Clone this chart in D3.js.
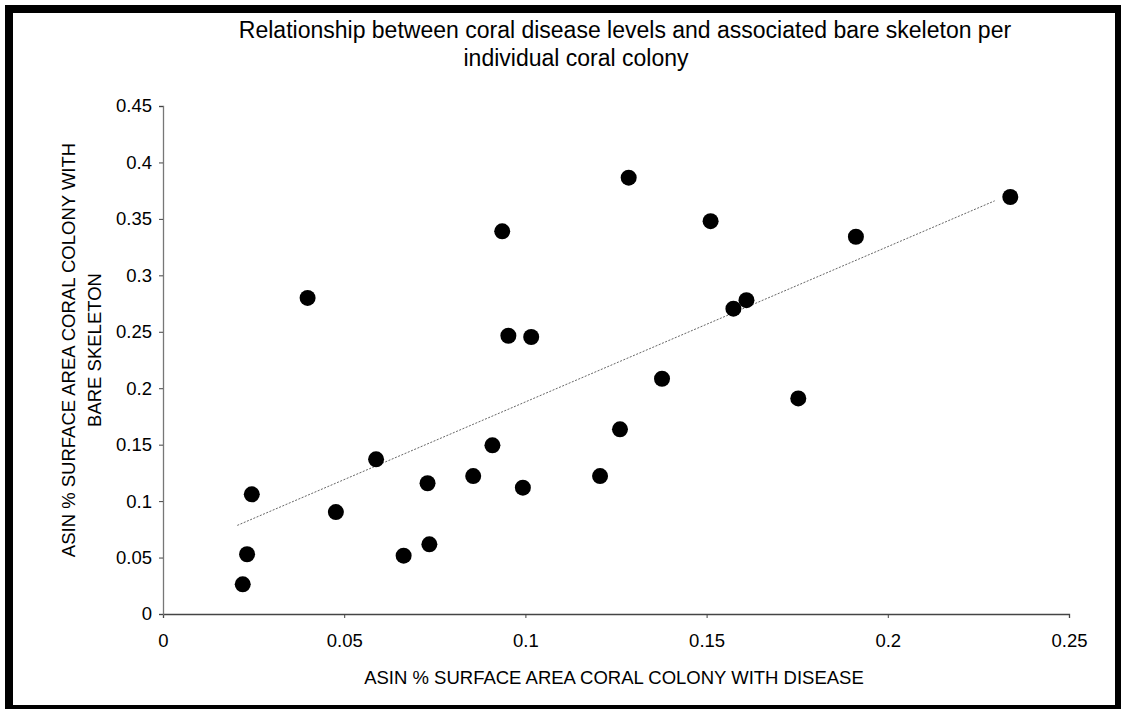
<!DOCTYPE html>
<html>
<head>
<meta charset="utf-8">
<script src="https://cdn.jsdelivr.net/npm/d3@7"></script>
<style>
  body { margin: 0; background: #fff; }
  text { font-family: "Liberation Sans", Arial, sans-serif; fill: #000; }
</style>
</head>
<body>
<svg width="1121" height="709"></svg>
<script>
// disease (x) vs bare skeleton (y), asin transformed
var diseaseVals = [0.0220, 0.0232, 0.0245, 0.0399, 0.0477, 0.0588, 0.0664, 0.0730, 0.0735,
                   0.0856, 0.0909, 0.0936, 0.0953, 0.0993, 0.1016, 0.1206, 0.1261, 0.1285,
                   0.1377, 0.1511, 0.1574, 0.1610, 0.1753, 0.1912, 0.2338];
var skeletonVals = [0.0263, 0.0529, 0.1060, 0.2800, 0.0903, 0.1370, 0.0517, 0.1158, 0.0617,
                    0.1222, 0.1494, 0.3390, 0.2465, 0.1119, 0.2454, 0.1222, 0.1636, 0.3865,
                    0.2084, 0.3480, 0.2705, 0.2780, 0.1910, 0.3342, 0.3694];
// linear trend line end points
var trendX = [0.0205, 0.2295];
var trendY = [0.0785, 0.3660];

var xTicks = [0, 0.05, 0.1, 0.15, 0.2, 0.25];
var xTickLabels = ["0", "0.05", "0.1", "0.15", "0.2", "0.25"];
var yTicks = [0, 0.05, 0.1, 0.15, 0.2, 0.25, 0.3, 0.35, 0.4, 0.45];
var yTickLabels = ["0", "0.05", "0.1", "0.15", "0.2", "0.25", "0.3", "0.35", "0.4", "0.45"];

var titleLines = ["Relationship between coral disease levels and associated bare skeleton per",
                  "individual coral colony"];
var xTitle = "ASIN % SURFACE AREA CORAL COLONY WITH DISEASE";
var yTitleLines = ["ASIN % SURFACE AREA CORAL COLONY WITH", "BARE SKELETON"];

var w = 1121, h = 709;
var margin = { left: 163, right: 52, top: 106, bottom: 95 };

var svg = d3.select("svg");

var x = d3.scaleLinear().domain([0, 0.25]).range([margin.left, w - margin.right]);
var y = d3.scaleLinear().domain([0, 0.45]).range([h - margin.bottom, margin.top]);

// outer frame
svg.append("rect")
    .attr("x", 9).attr("y", 9)
    .attr("width", 1110).attr("height", 700)
    .attr("fill", "#fff")
    .attr("stroke", "#000")
    .attr("stroke-width", 8);

// title
svg.append("text")
    .attr("x", 625).attr("y", 38)
    .attr("text-anchor", "middle")
    .style("font-size", "23px")
    .text(titleLines[0]);
svg.append("text")
    .attr("x", 576).attr("y", 66)
    .attr("text-anchor", "middle")
    .style("font-size", "23px")
    .text(titleLines[1]);

// axes
var xAxis = d3.axisBottom(x)
    .tickValues(xTicks)
    .tickSize(4)
    .tickPadding(16)
    .tickFormat(function(d, i) { return xTickLabels[i]; });
var gx = svg.append("g")
    .attr("transform", "translate(0," + y(0) + ")")
    .call(xAxis);

var yAxis = d3.axisLeft(y)
    .tickValues(yTicks)
    .tickSize(4)
    .tickPadding(7)
    .tickFormat(function(d, i) { return yTickLabels[i]; });
var gy = svg.append("g")
    .attr("transform", "translate(" + x(0) + ",0)")
    .call(yAxis);

[gx, gy].forEach(function(g) {
    g.select(".domain").attr("stroke", "#444").attr("stroke-width", 1.3);
    g.selectAll(".tick line").attr("stroke", "#444");
    g.selectAll(".tick text")
        .style("font-size", "18.5px")
        .style("font-family", "'Liberation Sans', Arial, sans-serif")
        .attr("fill", "#000");
});
gy.select(".domain").attr("stroke", "#777");

// axis titles
svg.append("text")
    .attr("x", 614).attr("y", 684)
    .attr("text-anchor", "middle")
    .style("font-size", "18.5px")
    .text(xTitle);

yTitleLines.forEach(function(t, i) {
    svg.append("text")
        .attr("transform", "translate(" + (75 + i * 26) + ",350) rotate(-90)")
        .attr("text-anchor", "middle")
        .style("font-size", "18.5px")
        .text(t);
});

// trend line
svg.append("line")
    .attr("x1", x(trendX[0])).attr("y1", y(trendY[0]))
    .attr("x2", x(trendX[1])).attr("y2", y(trendY[1]))
    .attr("stroke", "#666")
    .attr("stroke-width", 1)
    .attr("stroke-dasharray", "2,1.5");

// points
svg.selectAll("circle.pt")
    .data(diseaseVals)
    .enter()
    .append("circle")
    .attr("class", "pt")
    .attr("cx", function(d) { return x(d); })
    .attr("cy", function(d, i) { return y(skeletonVals[i]); })
    .attr("r", 8)
    .attr("fill", "#000");
</script>
</body>
</html>
